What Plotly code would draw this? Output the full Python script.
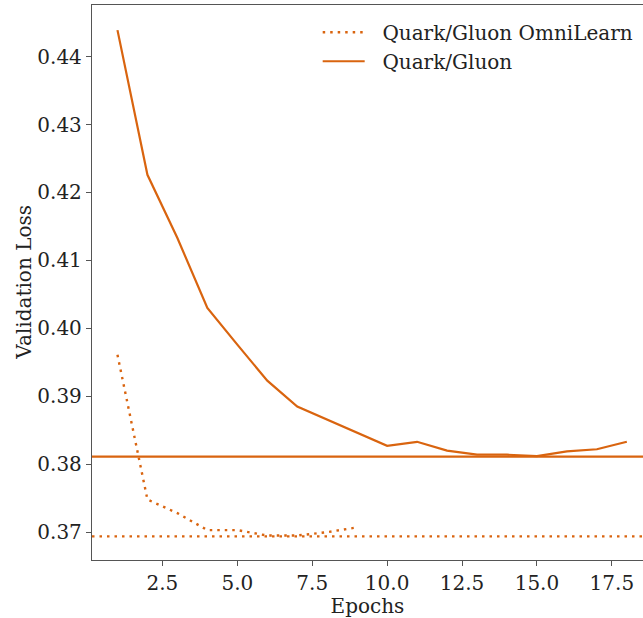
import plotly.graph_objects as go

# Data
epochs_qg = list(range(1, 19))
loss_qg = [0.4439, 0.4226, 0.4133, 0.4030, 0.3976, 0.3923, 0.3885, 0.3866,
           0.3847, 0.3827, 0.3833, 0.3820, 0.3814, 0.3814, 0.3812, 0.3819,
           0.3822, 0.3833]
epochs_omni = list(range(1, 10))
loss_omni = [0.3961, 0.3748, 0.3728, 0.3703, 0.3703, 0.3695, 0.3695, 0.3700, 0.3707]

best_qg = 0.38112
best_omni = 0.36938

x_ticks = [2.5, 5.0, 7.5, 10.0, 12.5, 15.0, 17.5]
y_ticks = [0.37, 0.38, 0.39, 0.40, 0.41, 0.42, 0.43, 0.44]

color = "#d9640f"
font_family = "DejaVu Serif"
nbsp = "\u00a0\u00a0"

fig = go.Figure()
fig.add_trace(go.Scatter(
    x=epochs_omni, y=loss_omni, mode="lines", name=nbsp + "Quark/Gluon OmniLearn",
    line=dict(color=color, width=2.4, dash="2.5px,5px"),
))
fig.add_trace(go.Scatter(
    x=epochs_qg, y=loss_qg, mode="lines", name=nbsp + "Quark/Gluon",
    line=dict(color=color, width=2.2),
))
fig.add_hline(y=best_omni, line=dict(color=color, width=2.4, dash="2.5px,5px"))
fig.add_hline(y=best_qg, line=dict(color=color, width=2.2))

axis_common = dict(
    showgrid=False, zeroline=False, showline=True, linecolor="#555555", linewidth=1.3,
    ticks="outside", ticklen=5, tickwidth=1, tickcolor="#555555",
    tickfont=dict(family=font_family, size=20, color="#222222"),
)

fig.update_xaxes(
    range=[0.15, 18.54], tickvals=x_ticks, ticktext=[f"{v:.1f}" for v in x_ticks],
    mirror=True,
    title=dict(text="Epochs", font=dict(family=font_family, size=20, color="#222222"), standoff=2),
    **axis_common,
)
fig.update_yaxes(
    range=[0.3659, 0.4476], tickvals=y_ticks, ticktext=[f"{v:.2f}" for v in y_ticks],
    **axis_common,
)

fig.add_annotation(
    text="Validation Loss", textangle=-90, showarrow=False,
    xref="paper", yref="paper", x=-0.125, y=0.5, xanchor="center", yanchor="middle",
    font=dict(family=font_family, size=20, color="#222222"),
)

fig.update_layout(
    width=643, height=618,
    margin=dict(l=92, r=0, t=5, b=58),
    plot_bgcolor="white", paper_bgcolor="white",
    font=dict(family=font_family, size=20, color="#222222"),
    legend=dict(
        x=0.4096, y=0.986, xanchor="left", yanchor="top",
        bgcolor="rgba(255,255,255,0)", borderwidth=0,
        font=dict(family=font_family, size=20, color="#222222"),
        itemwidth=42, tracegroupgap=0,
    ),
)

fig.write_html("out.html")
